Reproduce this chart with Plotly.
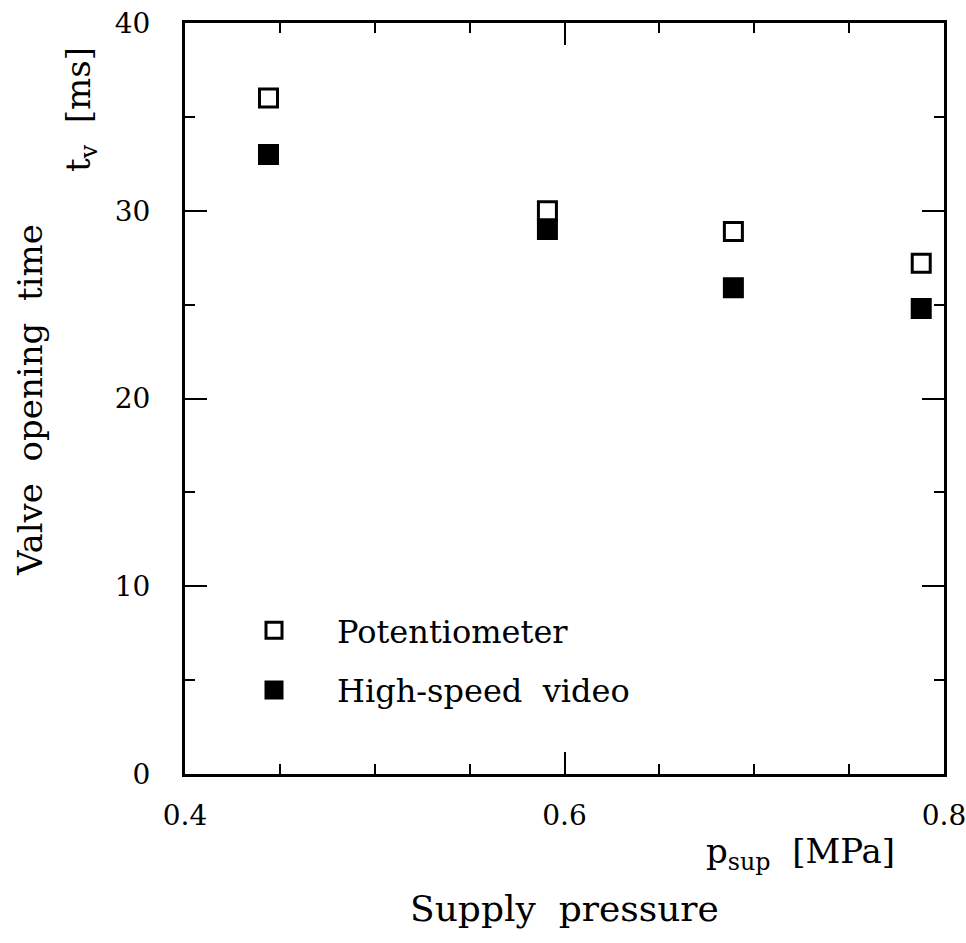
import plotly.graph_objects as go

# Supply pressure [MPa] at which each run was made
supply_pressure = [0.444, 0.591, 0.689, 0.788]
# Valve opening time t_v [ms] from the two measurement methods
potentiometer_ms = [36.0, 30.0, 28.9, 27.2]
high_speed_video_ms = [33.0, 29.0, 25.9, 24.8]

x_ticks = [0.4, 0.6, 0.8]
x_tick_text = ["0.4", "0.6", "0.8"]
y_ticks = [0, 10, 20, 30, 40]
y_tick_text = ["0", "10", "20", "30", "40"]

FONT = "DejaVu Serif"
W, H = 966, 943
ML, MR, MT, MB = 185, 22, 23, 169

fig = go.Figure()
fig.add_trace(go.Scatter(
    x=supply_pressure, y=potentiometer_ms, mode="markers",
    name="Potentiometer", legendgroup="pot",
    marker=dict(symbol="square", size=18, color="white",
                line=dict(color="black", width=3)),
))
fig.add_trace(go.Scatter(
    x=supply_pressure, y=high_speed_video_ms, mode="markers",
    name="High-speed\u00a0\u00a0video", legendgroup="hsv",
    marker=dict(symbol="square", size=18, color="black",
                line=dict(color="black", width=3)),
))


def px_to_paper(px, py):
    return (px - ML) / (W - ML - MR), (H - MB - py) / (H - MT - MB)


annotations = []
for text, (px, py), angle, size in [
    ("Valve\u00a0\u00a0opening\u00a0\u00a0time", (30, 400), -90, 34),
    ("t<sub>v</sub>\u00a0\u00a0[ms]", (80, 110), -90, 34),
    ("p<sub>sup</sub>\u00a0\u00a0[MPa]", (800, 853), 0, 34),
    ("Supply\u00a0\u00a0pressure", (564, 908), 0, 36),
]:
    ax, ay = px_to_paper(px, py)
    annotations.append(dict(
        text=text, x=ax, y=ay, xref="paper", yref="paper",
        xanchor="center", yanchor="middle", textangle=angle,
        showarrow=False, font=dict(family=FONT, size=size, color="black"),
    ))

axis_common = dict(
    showline=True, linecolor="black", linewidth=3, mirror="ticks",
    ticks="inside", ticklen=22, tickwidth=2, tickcolor="black",
    showgrid=False, zeroline=False, automargin=False,
    ticklabeloverflow="allow",
    tickfont=dict(family=FONT, size=28, color="black"),
)

leg_x, leg_y = px_to_paper(211, 603)

fig.update_layout(
    template="none",
    width=W, height=H,
    margin=dict(l=ML, r=MR, t=MT, b=MB, autoexpand=False),
    paper_bgcolor="white", plot_bgcolor="white",
    font=dict(family=FONT, color="black"),
    xaxis=dict(
        range=[0.4, 0.8], tickvals=x_ticks, ticktext=x_tick_text,
        ticklabelstandoff=14,
        minor=dict(dtick=0.05, ticks="inside", ticklen=10, tickwidth=2,
                   tickcolor="black", showgrid=False),
        **axis_common,
    ),
    yaxis=dict(
        range=[0, 40], tickvals=y_ticks, ticktext=y_tick_text,
        ticklabelstandoff=26,
        minor=dict(dtick=5, ticks="inside", ticklen=10, tickwidth=2,
                   tickcolor="black", showgrid=False),
        **axis_common,
    ),
    legend=dict(
        x=leg_x, y=leg_y, xanchor="left", yanchor="top",
        bgcolor="rgba(0,0,0,0)", borderwidth=0,
        font=dict(family=FONT, size=32, color="black"),
        itemwidth=116, traceorder="grouped", tracegroupgap=15,
    ),
    showlegend=True,
    annotations=annotations,
)

fig.write_html("out.html")
